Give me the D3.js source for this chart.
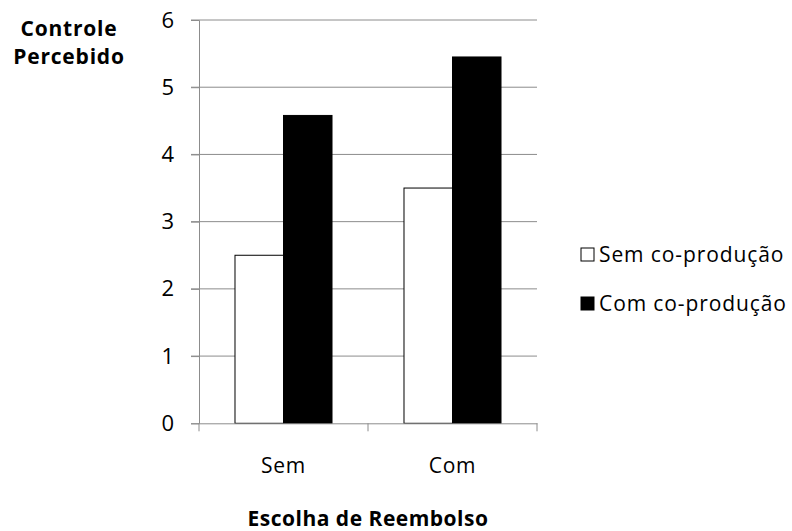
<!DOCTYPE html>
<html>
<head>
<meta charset="utf-8">
<script src="https://cdn.jsdelivr.net/npm/d3@7"></script>
<style>
  html, body { margin: 0; padding: 0; background: #fff; }
  svg { display: block; }
  text { font-family: "Open Sans", Lato, sans-serif; fill: #000; }
</style>
</head>
<body>
<svg id="chart" width="792" height="531"></svg>
<script>
// Perceived control by reimbursement choice and co-production
const categories = ["Sem", "Com"];
const seriesNames = ["Sem co-produção", "Com co-produção"];
const semCoProducao = [2.5, 3.5];
const comCoProducao = [4.58, 5.45];
const yTicks = [0, 1, 2, 3, 4, 5, 6];

const seriesValues = [semCoProducao, comCoProducao];
const seriesFill = ["#ffffff", "#000000"];

const FONT = "'Open Sans', Lato, sans-serif";
const svg = d3.select("#chart");
const plot = { left: 199, right: 537, top: 20, bottom: 423.3 };

const x0 = d3.scaleBand()
  .domain(categories)
  .range([plot.left, plot.right])
  .paddingInner(0)
  .paddingOuter(0);

const x1 = d3.scaleBand()
  .domain(d3.range(seriesNames.length))
  .range([0, x0.bandwidth()])
  .paddingInner(0)
  .paddingOuter(0.742);

const y = d3.scaleLinear().domain([0, 6]).range([plot.bottom, plot.top]);

// horizontal gridlines
svg.append("g")
  .selectAll("line")
  .data(yTicks.filter(t => t > 0))
  .join("line")
  .attr("x1", plot.left - 8)
  .attr("x2", plot.right)
  .attr("y1", d => y(d))
  .attr("y2", d => y(d))
  .attr("stroke", "#8c8c8c")
  .attr("stroke-width", 1);

// y axis
const yAxis = d3.axisLeft(y).tickValues(yTicks).tickSize(8).tickPadding(17).tickFormat(d3.format("d"));
const gy = svg.append("g").attr("transform", `translate(${plot.left},0)`).call(yAxis);
gy.select(".domain").attr("stroke", "#8c8c8c");
gy.selectAll(".tick line").attr("stroke", "#8c8c8c");
gy.selectAll(".tick text").attr("font-size", 22).attr("font-family", FONT).attr("fill", "#000");

// bars
const groups = svg.append("g")
  .selectAll("g")
  .data(categories)
  .join("g")
  .attr("transform", d => `translate(${x0(d)},0)`);

groups.selectAll("rect")
  .data((d, i) => seriesValues.map((s, j) => ({ series: j, value: s[i] })))
  .join("rect")
  .attr("x", d => x1(d.series))
  .attr("width", x1.bandwidth())
  .attr("y", d => y(d.value))
  .attr("height", d => y(0) - y(d.value))
  .attr("fill", d => seriesFill[d.series])
  .attr("stroke", "#000")
  .attr("stroke-width", 1);

// x axis
const xAxis = d3.axisBottom(x0).tickSize(0).tickPadding(35);
const gx = svg.append("g").attr("transform", `translate(0,${plot.bottom})`).call(xAxis);
gx.select(".domain").attr("stroke", "#8c8c8c");
gx.selectAll(".tick text")
  .attr("font-size", 21).attr("font-family", FONT).attr("fill", "#000")
  .attr("letter-spacing", 0.8);

// category separators below the axis
const sep = [plot.left, ...categories.slice(1).map(c => x0(c)), plot.right];
svg.append("g")
  .selectAll("line")
  .data(sep)
  .join("line")
  .attr("x1", d => d).attr("x2", d => d)
  .attr("y1", plot.bottom).attr("y2", plot.bottom + 8)
  .attr("stroke", "#8c8c8c");

// axis titles
svg.append("text")
  .attr("text-anchor", "middle")
  .attr("font-size", 21).attr("font-weight", "bold")
  .attr("letter-spacing", 0.8)
  .selectAll("tspan")
  .data(["Controle", "Percebido"])
  .join("tspan")
  .attr("x", 69)
  .attr("y", (d, i) => 36 + i * 28)
  .text(d => d);

svg.append("text")
  .attr("x", 368).attr("y", 526)
  .attr("text-anchor", "middle")
  .attr("font-size", 21).attr("font-weight", "bold")
  .attr("letter-spacing", 0.5)
  .text("Escolha de Reembolso");

// legend
const legend = svg.append("g")
  .selectAll("g")
  .data(seriesNames)
  .join("g")
  .attr("transform", (d, i) => `translate(581,${248 + i * 49})`);

legend.append("rect")
  .attr("width", 13).attr("height", 13)
  .attr("fill", (d, i) => seriesFill[i])
  .attr("stroke", "#000").attr("stroke-width", 1);

legend.append("text")
  .attr("x", 18).attr("y", 14)
  .attr("font-size", 21)
  .attr("letter-spacing", 0.9)
  .text(d => d);
</script>
</body>
</html>
